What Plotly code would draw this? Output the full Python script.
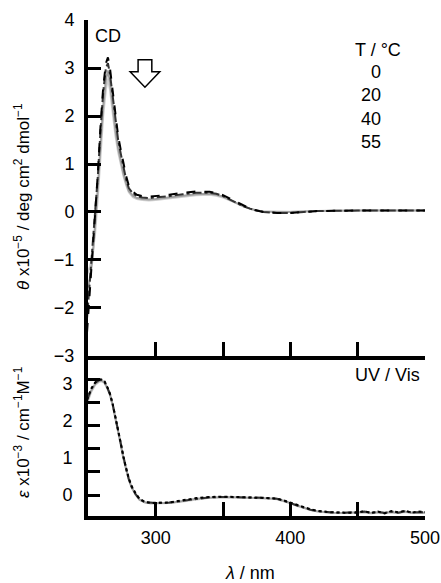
import plotly.graph_objects as go

# ---------------- data ----------------
temps = [0, 20, 40, 55]

cd_wl = [249, 251, 253, 255, 257, 259, 261, 263, 264.5, 266, 268, 270, 272, 274, 276, 278,
         280, 283, 286, 290, 295, 300, 310, 320, 330, 340, 345, 350, 355, 360, 365, 370,
         375, 380, 390, 400, 410, 420, 450, 500]
cd_0 = [-2.5, -1.7, -1.0, -0.1, 0.8, 1.8, 2.6, 3.1, 3.22, 3.0, 2.5, 2.0, 1.6, 1.3, 1.0, 0.75,
        0.55, 0.42, 0.36, 0.33, 0.32, 0.33, 0.36, 0.40, 0.43, 0.42, 0.40, 0.35, 0.28, 0.20, 0.13, 0.07,
        0.03, 0.0, -0.02, -0.02, 0.0, 0.02, 0.03, 0.03]
cd_20 = [-2.2, -1.5, -0.8, -0.05, 0.75, 1.7, 2.5, 3.0, 3.1, 2.88, 2.4, 1.92, 1.52, 1.22, 0.93, 0.68,
         0.5, 0.39, 0.33, 0.30, 0.29, 0.30, 0.33, 0.37, 0.40, 0.40, 0.38, 0.33, 0.26, 0.19, 0.12, 0.07,
         0.03, 0.0, -0.02, -0.02, 0.0, 0.02, 0.03, 0.03]
cd_40 = [-1.7, -1.4, -1.0, -0.3, 0.5, 1.4, 2.2, 2.75, 2.95, 2.72, 2.2, 1.72, 1.35, 1.06, 0.8, 0.6,
         0.44, 0.34, 0.29, 0.27, 0.26, 0.27, 0.30, 0.34, 0.37, 0.38, 0.36, 0.32, 0.25, 0.18, 0.12, 0.07,
         0.03, 0.01, 0.0, 0.0, 0.01, 0.02, 0.03, 0.03]
cd_55 = [-1.3, -1.15, -0.9, -0.45, 0.3, 1.2, 2.0, 2.55, 2.78, 2.55, 2.05, 1.6, 1.26, 0.99, 0.75, 0.56,
         0.41, 0.31, 0.27, 0.25, 0.24, 0.25, 0.28, 0.32, 0.35, 0.36, 0.34, 0.30, 0.24, 0.18, 0.12, 0.07,
         0.03, 0.01, 0.0, 0.0, 0.01, 0.02, 0.03, 0.03]

uv_wl = [249, 252, 255, 258, 260, 262, 264, 266, 268, 270, 272, 274, 276, 278, 280, 282, 285, 288,
         292, 296, 300, 310, 320, 330, 340, 350, 360, 370, 380, 390, 395, 400, 405, 410, 415, 420,
         425, 430, 440, 450, 455, 460, 465, 470, 475, 480, 485, 490, 495, 500]
uv_0 = [2.55, 2.85, 3.02, 3.1, 3.1, 3.05, 2.9, 2.72, 2.45, 2.12, 1.75, 1.4, 1.02, 0.72, 0.45, 0.25,
        0.05, -0.1, -0.18, -0.21, -0.21, -0.2, -0.14, -0.08, -0.05, -0.04, -0.05, -0.06, -0.07,
        -0.09, -0.14, -0.2, -0.27, -0.33, -0.38, -0.42, -0.44, -0.46, -0.47, -0.47, -0.43, -0.48,
        -0.44, -0.49, -0.43, -0.46, -0.42, -0.47, -0.44, -0.45]
uv_20 = [2.55, 2.84, 3.01, 3.09, 3.09, 3.04, 2.89, 2.71, 2.44, 2.1, 1.73, 1.38, 1.0, 0.7, 0.43, 0.23,
         0.03, -0.11, -0.19, -0.21, -0.21, -0.2, -0.15, -0.09, -0.06, -0.05, -0.05, -0.06, -0.07,
         -0.1, -0.15, -0.21, -0.28, -0.34, -0.39, -0.43, -0.45, -0.46, -0.47, -0.46, -0.44, -0.47,
         -0.45, -0.48, -0.44, -0.47, -0.43, -0.46, -0.45, -0.46]
uv_40 = [2.5, 2.8, 2.98, 3.06, 3.07, 3.02, 2.88, 2.7, 2.43, 2.1, 1.73, 1.37, 0.99, 0.69, 0.42, 0.22,
         0.02, -0.12, -0.19, -0.22, -0.22, -0.21, -0.16, -0.1, -0.07, -0.05, -0.06, -0.07, -0.08,
         -0.1, -0.15, -0.21, -0.28, -0.35, -0.4, -0.43, -0.45, -0.47, -0.48, -0.46, -0.45, -0.48,
         -0.46, -0.47, -0.45, -0.48, -0.44, -0.47, -0.46, -0.47]
uv_55 = [2.45, 2.76, 2.95, 3.04, 3.05, 3.0, 2.86, 2.68, 2.41, 2.08, 1.71, 1.35, 0.98, 0.68, 0.41, 0.21,
         0.01, -0.13, -0.2, -0.22, -0.22, -0.21, -0.17, -0.11, -0.07, -0.06, -0.06, -0.07, -0.08,
         -0.11, -0.16, -0.22, -0.29, -0.35, -0.4, -0.44, -0.46, -0.47, -0.48, -0.47, -0.46, -0.49,
         -0.46, -0.48, -0.46, -0.48, -0.45, -0.48, -0.47, -0.47]

cd_ticks = [-3, -2, -1, 0, 1, 2, 3, 4]
uv_label_ticks = [0, 1, 2, 3]
uv_mark_ticks = [0, 0.62, 1.24, 1.86, 2.48, 3.1]
x_ticks_top = [300, 350, 400, 450]
x_ticks_bottom = [300, 350, 400, 450, 500]
x_ticktext_bottom = ["300", "", "400", "", "500"]

# ---------------- styles ----------------
styles = {
    55: dict(color="#cfcfcf", dash="solid", width=2),
    40: dict(color="#a0a0a0", dash="solid", width=2),
    20: dict(color="#333333", dash="dashdot", width=2),
    0: dict(color="#000000", dash="dash", width=2),
}
cd_series = {0: cd_0, 20: cd_20, 40: cd_40, 55: cd_55}
uv_series = {0: uv_0, 20: uv_20, 40: uv_40, 55: uv_55}

FONT = "Liberation Sans, Arial, sans-serif"

fig = go.Figure()
for t in [55, 40, 20, 0]:
    fig.add_trace(go.Scatter(x=cd_wl, y=cd_series[t], mode="lines", line=styles[t],
                             xaxis="x", yaxis="y", showlegend=False, name=f"{t} °C"))
for t in [55, 40, 20, 0]:
    st = dict(styles[t])
    if t == 0:
        st["dash"] = "dot"
    fig.add_trace(go.Scatter(x=uv_wl, y=uv_series[t], mode="lines", line=st,
                             xaxis="x2", yaxis="y2", showlegend=False, name=f"{t} °C"))

split = 0.3226
xrange_ = [249.7, 500]

axis_common = dict(showgrid=False, zeroline=False, showline=True, linecolor="black",
                   linewidth=4, ticks="inside", tickcolor="black", tickwidth=3,
                   automargin=False,
                   tickfont=dict(family=FONT, size=18, color="black"))

fig.update_layout(
    width=441, height=583,
    margin=dict(l=88, r=16, t=20, b=67, autoexpand=False),
    paper_bgcolor="white", plot_bgcolor="white",
    font=dict(family=FONT, size=18, color="black"),
    xaxis=dict(**axis_common, domain=[0, 1], range=xrange_, anchor="y",
               tickvals=x_ticks_top, ticklen=14, showticklabels=False),
    yaxis=dict(**axis_common, domain=[split, 1], range=[-3, 4], anchor="x",
               tickvals=cd_ticks, ticklen=13, ticklabelstandoff=6),
    xaxis2=dict(**axis_common, domain=[0, 1], range=xrange_, anchor="y2",
                tickvals=x_ticks_bottom, ticktext=x_ticktext_bottom, ticklen=14,
                ticklabelstandoff=2, ticklabeloverflow="allow"),
    yaxis2=dict(**axis_common, domain=[0, split], range=[-0.56, 3.73], anchor="x2",
                tickvals=uv_label_ticks, ticklen=0, ticklabelstandoff=8),
    yaxis3=dict(showgrid=False, zeroline=False, showline=False, overlaying="y2",
                anchor="x2", range=[-0.56, 3.73], ticks="inside", tickvals=uv_mark_ticks,
                ticklen=12, tickwidth=3, tickcolor="black", showticklabels=False,
                automargin=False),
)

# dummy trace so the tick-mark overlay axis is drawn
fig.add_trace(go.Scatter(x=[None], y=[None], xaxis="x2", yaxis="y3",
                         showlegend=False, hoverinfo="skip"))

tf = dict(family=FONT, size=18, color="black")
fig.add_annotation(text="CD", x=253.5, y=3.67, xref="x", yref="y", xanchor="left",
                   yanchor="middle", showarrow=False, font=tf)
fig.add_annotation(text="T / °C", x=465, y=3.375, xref="x", yref="y", xanchor="center",
                   yanchor="middle", showarrow=False, font=tf)
fig.add_annotation(text="<br>".join(str(t) for t in temps), x=468.6, y=3.17, xref="x", yref="y",
                   xanchor="right", yanchor="top", align="right", showarrow=False, font=tf)
fig.add_annotation(text="UV / Vis", x=497.7, y=3.22, xref="x2", yref="y2", xanchor="right",
                   yanchor="middle", showarrow=False, font=tf)

# open down arrow
cx, top_, shoulder, tip, hw, sw = 292.0, 3.17, 2.92, 2.60, 11.0, 5.1
path = (f"M {cx-sw},{top_} L {cx+sw},{top_} L {cx+sw},{shoulder} L {cx+hw},{shoulder} "
        f"L {cx},{tip} L {cx-hw},{shoulder} L {cx-sw},{shoulder} Z")
fig.add_shape(type="path", path=path, xref="x", yref="y",
              line=dict(color="black", width=1.5), fillcolor="white")

# axis titles
fig.add_annotation(text="<i>θ</i> x10<sup>−5</sup> / deg cm<sup>2</sup> dmol<sup>−1</sup>",
                   xref="paper", yref="paper", x=-66 / 337, y=(516 - 197) / 496,
                   textangle=-90, showarrow=False, xanchor="center", yanchor="middle",
                   font=dict(family=FONT, size=17, color="black"))
fig.add_annotation(text="<i>ε</i> x10<sup>−3</sup> / cm<sup>−1</sup>M<sup>−1</sup>",
                   xref="paper", yref="paper", x=-66 / 337, y=(516 - 432) / 496,
                   textangle=-90, showarrow=False, xanchor="center", yanchor="middle",
                   font=dict(family=FONT, size=17, color="black"))
fig.add_annotation(text="<i>λ</i> / nm", xref="paper", yref="paper",
                   x=(250 - 88) / 337, y=(516 - 573) / 496, showarrow=False,
                   xanchor="center", yanchor="middle",
                   font=dict(family=FONT, size=18, color="black"))

fig.write_html("out.html", config={"displayModeBar": False},
               post_script="document.body.style.margin='0';document.body.style.padding='0';"
                           "document.documentElement.style.overflow='hidden';")
